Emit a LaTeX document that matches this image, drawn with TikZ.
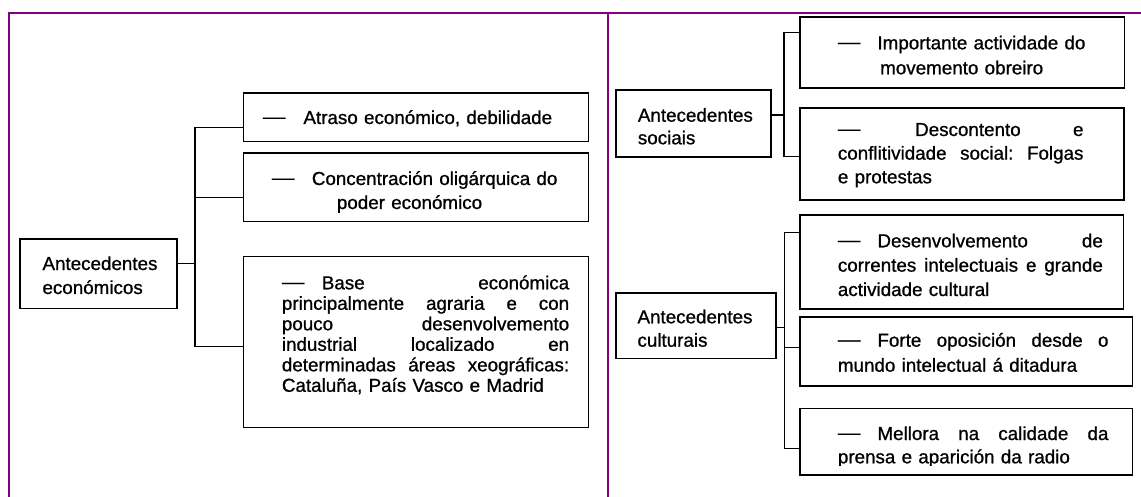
\documentclass[tikz,border=0pt]{standalone}
\usepackage{fontspec}
\setmainfont[FakeBold=0.9]{Liberation Sans}
\usetikzlibrary{fit}
\definecolor{frm}{RGB}{128,0,128}
\newcommand\dsh{\raisebox{1pt}{\scalebox{1.2}[1]{—}}}
\newcommand\jl[1]{\leavevmode\hbox to\hsize{#1}}
\tikzset{
  bx/.style={draw=black, line width=1.6pt, inner sep=0pt, rectangle},
  cn/.style={draw=black, line width=1.4pt},
  frameline/.style={draw=frm, line width=1.8pt},
  txt/.style={anchor=base west, inner sep=0pt, align=left, font=\fontsize{18.8}{#1}\selectfont},
}
\begin{document}
\begin{tikzpicture}[x=1pt, y=-1pt]
\useasboundingbox (0,0) rectangle (1141,497);
% purple frame
\draw[frameline] (9,497) -- (9,12.7) -- (1141,12.7);
\draw[frameline] (607.7,12.7) -- (607.7,497);

% boxes
\node[bx, fit={(20,239.3) (176.7,308.3)}] (eco) {};
\node[bx, fit={(243.3,93.3) (588.3,141.7)}] (atraso) {};
\node[bx, fit={(243.3,153.3) (588.3,221.7)}] (conc) {};
\node[bx, fit={(243.3,256.7) (588.3,427.3)}] (base) {};
\node[bx, fit={(616,90) (770.7,157.3)}] (soc) {};
\node[bx, fit={(800,17.3) (1124.3,88.3)}] (imp) {};
\node[bx, fit={(800,108.3) (1124,200)}] (desc) {};
\node[bx, fit={(616.2,292.7) (776,358.3)}] (cul) {};
\node[bx, fit={(800,215) (1123.3,309)}] (des) {};
\node[bx, fit={(800,316.7) (1132.3,386)}] (forte) {};
\node[bx, fit={(800,408.3) (1132.3,475)}] (mel) {};

% texts
\node[txt=24, text width=130pt] (t-eco) at (42.3,270) {Antecedentes\\económicos};
\node[txt=22.6, text width=130pt] (t-soc) at (637.7,121.7) {Antecedentes\\sociais};
\node[txt=23.4, text width=130pt] (t-cul) at (637.3,323.3) {Antecedentes\\culturais};

\node[txt=20.5, text width=310pt] (t-atraso) at (262.7,124) {\dsh\hspace{18pt}Atraso económico, debilidade};
\node[txt=24, text width=310pt] (t-conc) at (271.7,185) {\dsh\hspace{17.4pt}Concentración oligárquica do\\\hspace*{65pt}poder económico};
\node[txt=20.5, text width=287.3pt] (t-base) at (281.7,289.3) {%
\jl{\dsh\hspace{17.4pt}Base\hfill económica}\\
\jl{principalmente\hfill agraria\hfill e\hfill con}\\
\jl{pouco\hfill desenvolvemento}\\
\jl{industrial\hfill localizado\hfill en}\\
\jl{determinadas\hfill áreas\hfill xeográficas:}\\
Cataluña, País Vasco e Madrid};

\node[txt=25, text width=280pt] (t-imp) at (837.7,49.3) {\dsh\hspace{17pt}Importante actividade do\\\hspace*{42.3pt}movemento obreiro};
\node[txt=23.65, text width=245.6pt] (t-desc) at (837.7,136) {%
\jl{\dsh\hspace{54.7pt}Descontento\hfill e}\\
\jl{conflitividade\hfill social:\hfill Folgas}\\
e protestas};
\node[txt=24.35, text width=265pt] (t-des) at (837.7,247.3) {%
\jl{\dsh\hspace{17pt}Desenvolvemento\hfill de}\\
\jl{correntes\hfill intelectuais\hfill e\hfill grande}\\
actividade cultural};
\node[txt=25, text width=270.6pt] (t-forte) at (837.7,346.7) {%
\jl{\dsh\hspace{17pt}Forte\hfill oposición\hfill desde\hfill o}\\
mundo intelectual á ditadura};
\begin{scope}
\clip (790,400) rectangle (1140,465);
\node[txt=23.3, text width=270.6pt] (t-mel) at (837.7,440) {%
\jl{\dsh\hspace{17pt}Mellora\hfill na\hfill calidade\hfill da}\\
prensa e aparición da radio};
\end{scope}

% connectors
\coordinate (jE) at (195,263.3);
\draw[cn] (eco.east |- jE) -- (jE);
\draw[cn] (atraso.west |- 0,127.7) -| (jE) |- (base.west |- 0,346.7);
\draw[cn] (conc.west |- 0,197.7) -- (jE |- 0,197.7);

\coordinate (jS) at (784,115);
\draw[cn] (soc.east |- jS) -- (jS);
\draw[cn] (imp.west |- 0,32.7) -| (jS) |- (desc.west |- 0,156.7);

\coordinate (jC) at (784.6,327.7);
\draw[cn] (cul.east |- jC) -- (jC);
\draw[cn] (des.west |- 0,232.7) -| (jC) |- (mel.west |- 0,448.3);
\draw[cn] (forte.west |- 0,347.3) -- (jC |- 0,347.3);
\end{tikzpicture}
\end{document}
